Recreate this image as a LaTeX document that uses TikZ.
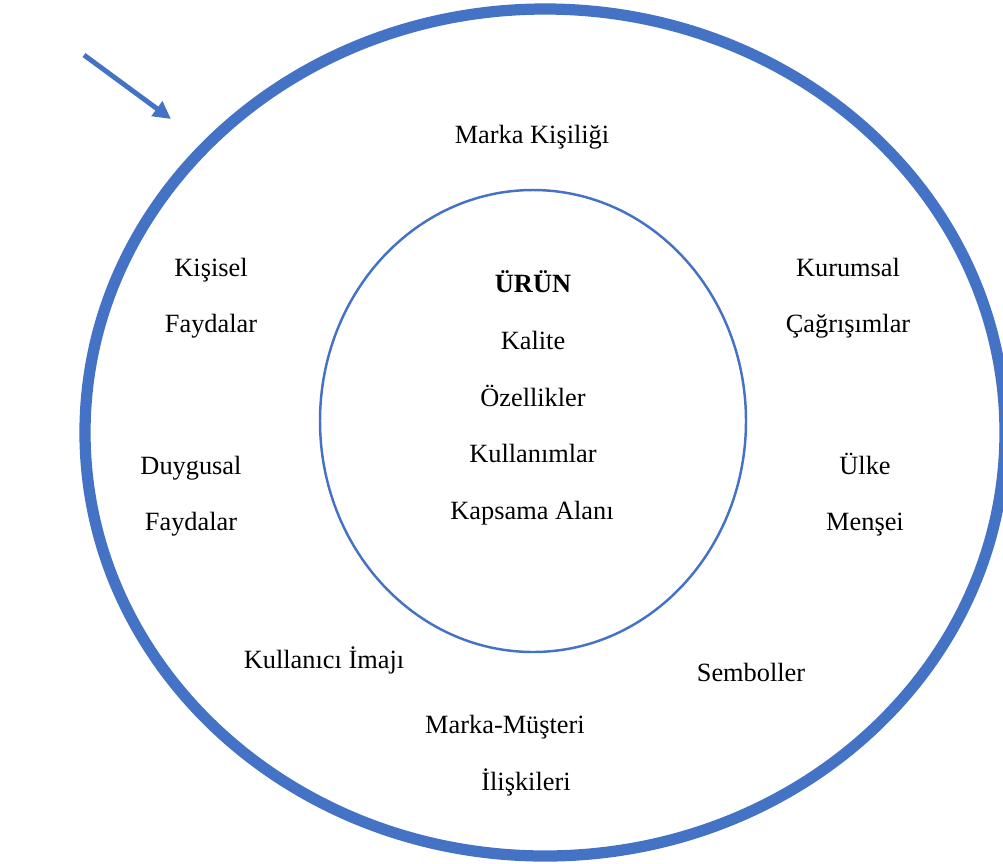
\documentclass[tikz,border=0pt]{standalone}
\usepackage{fontspec}
\setmainfont{Liberation Serif}
\usetikzlibrary{arrows.meta}
\definecolor{ringblue}{HTML}{4472C4}

\begin{document}
\begin{tikzpicture}
				[x=0.02cm, y=-0.02cm,
				lbl/.style = {anchor=base, inner sep=0pt,
				font=\fontsize{15}{18}\selectfont},
				outerring/.style = {draw=ringblue, line width=6.4pt},
				innerring/.style = {draw=ringblue, line width=1.4pt}]
				\useasboundingbox (0, 0) rectangle (1003, 863);
				\draw[outerring] (545, 432.5) ellipse [x radius=460, y radius=423.5];
				\draw[innerring] (533, 421) ellipse [x radius=213, y radius=231];
				\coordinate (arrstart) at (84, 55);
				\coordinate (arrtip) at (171, 119);
				\draw[ringblue, line width=2.8pt,
				-{Triangle[length=10pt, width=10pt]}] (arrstart) -- (arrtip);
				% inner circle
				\node[lbl] (urun) at (533, 292) {\textbf{ÜRÜN}};
				\node[lbl] (kalite) at (533, 349) {Kalite};
				\node[lbl] (ozellik) at (533, 406) {Özellikler};
				\node[lbl] (kullanim) at (533, 462) {Kullanımlar};
				\node[lbl] (kapsam) at (532, 519) {Kapsama Alanı};
				% outer ring
				\node[lbl] (kisilik) at (532, 143) {Marka Kişiliği};
				\node[lbl] (kisisel) at (211, 276) {Kişisel};
				\node[lbl] (kfayda) at (211, 332) {Faydalar};
				\node[lbl] (duygusal) at (191, 474) {Duygusal};
				\node[lbl] (dfayda) at (191, 530) {Faydalar};
				\node[lbl] (kurumsal) at (848, 276) {Kurumsal};
				\node[lbl] (cagrisim) at (848, 332) {Çağrışımlar};
				\node[lbl] (ulke) at (865, 474) {Ülke};
				\node[lbl] (mensei) at (865, 530) {Menşei};
				\node[lbl] (imaj) at (324, 668) {Kullanıcı İmajı};
				\node[lbl] (sembol) at (751, 681) {Semboller};
				\node[lbl] (musteri) at (505, 733) {Marka-Müşteri};
				\node[lbl] (iliski) at (526, 790) {İlişkileri};
			\end{tikzpicture}
\end{document}
